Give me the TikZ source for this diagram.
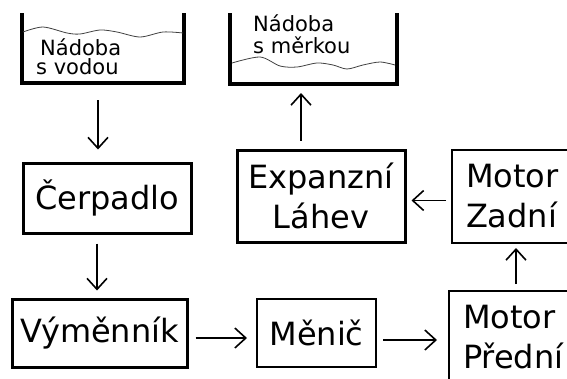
\documentclass[tikz,border=0pt]{standalone}
\usepackage{fontspec}
\setmainfont{DejaVu Sans}
\usetikzlibrary{arrows.meta,calc}
\begin{document}
\begin{tikzpicture}[x=1pt,y=-1pt,
  bigtext/.style={font=\fontsize{32}{40}\selectfont, inner sep=0pt},
  tanktext/.style={font=\fontsize{21}{21}\selectfont, inner sep=0pt, anchor=base west},
  thickbox/.style={draw, line width=3pt, bigtext},
  thinbox/.style={draw, line width=2pt, bigtext},
  motorbox/.style={thinbox, anchor=north west, align=left, inner xsep=14pt, text width=130pt, minimum height=93pt},
  arr/.style={line width=1.6pt, -{Straight Barb[length=11pt,width=20pt]}},
  wall/.style={line width=3.2pt, line join=miter},
  wave/.style={line width=0.8pt, black!75}]
\useasboundingbox (0,0) rectangle (567,378);
\clip (0,0) rectangle (567,378);
% containers
\draw[wall] (22,13) -- (22,83) -- (184,83) -- (184,13);
\draw[wave] plot[smooth] coordinates {(23,32) (43,27) (67,33) (80,34) (100,30) (117,32) (140,37) (163,32) (183,33)};
\node[tanktext] (c1a) at (40,55) {Nádoba};
\node[tanktext] (c1s) at (36,74) {s vodou};
\coordinate (c1b) at (98,83);
\draw[wall] (230,13) -- (230,84) -- (397,84) -- (397,13);
\draw[wave] plot[smooth] coordinates {(232,63) (260,57) (280,66) (297,67) (317,63) (333,65) (347,69) (363,65) (380,62) (395,65)};
\node[tanktext] (c2a) at (253,31) {Nádoba};
\node[tanktext] (c2s) at (253,53) {s měrkou};
\coordinate (c2b) at (301,84);
% boxes
\node[thickbox, minimum width=168pt, minimum height=70pt] (cerp) at (107,198) {Čerpadlo};
\node[thickbox, minimum width=175pt, minimum height=68pt] (vym) at (99.5,333) {Výměnník};
\node[thinbox, minimum width=119pt, minimum height=68pt] (men) at (316.5,333) {Měnič};
\node[thickbox, minimum width=168pt, minimum height=92pt, align=center] (exp) at (321,196) {Expanzní\\Láhev};
\node[motorbox] (mz) at (451,149) {Motor\\Zadní};
\node[motorbox] (mp) at (448,290) {Motor\\Přední};
% arrows
\draw[arr] ($(c1b)+(0,17)$) -- ($(c1b |- cerp.north)+(0,-12)$);
\draw[arr] ($(cerp.south)+(-10,9)$) -- ($(cerp.south |- vym.north)+(-10,-7)$);
\draw[arr] ($(vym.east)+(7,5)$) -- ($(vym.east -| men.west)+(-9,5)$);
\draw[arr] ($(men.east)+(6,7)$) -- ($(men.east -| mp.west)+(-11,7)$);
\draw[arr] ($(mp.north west)+(68,-6)$) -- ($(mz.south west)+(65,4)$);
\draw[arr] ($(mz.west)+(-5,4)$) -- ($(mz.west -| exp.east)+(5,4)$);
\draw[arr] ($(exp.north)+(-20,-8)$) -- ($(c2b)+(0,9)$);
\end{tikzpicture}
\end{document}
